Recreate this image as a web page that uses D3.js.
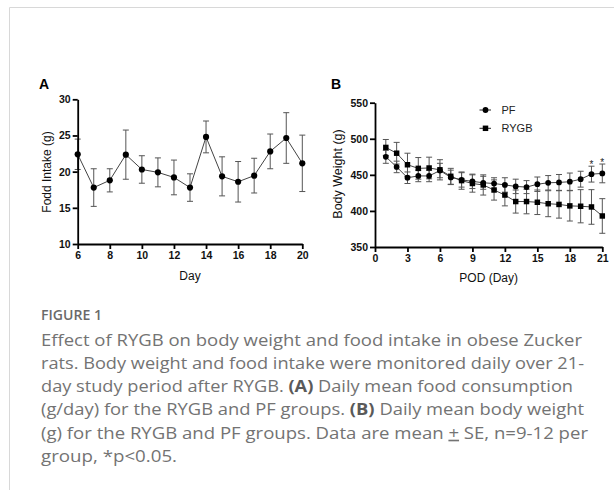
<!DOCTYPE html>
<html>
<head>
<meta charset="utf-8">
<script src="https://cdn.jsdelivr.net/npm/d3@7"></script>
<style>
  body { margin: 0; background: #fff; }
  svg { display: block; }
</style>
</head>
<body>
<div id="chart"></div>
<script>
// panel A: daily food intake
const foodDays = [6, 7, 8, 9, 10, 11, 12, 13, 14, 15, 16, 17, 18, 19, 20]
const foodMean = [22.4, 17.8, 18.8, 22.35, 20.3, 19.9, 19.2, 17.8, 24.8, 19.35, 18.6, 19.45, 22.8, 24.65, 21.15]
const foodSE = [2.1, 2.6, 1.6, 3.4, 1.9, 2.0, 2.4, 1.9, 2.2, 2.7, 2.8, 2.4, 2.4, 3.5, 3.9]
const foodXTicks = [6, 8, 10, 12, 14, 16, 18, 20]
const foodYTicks = [10, 15, 20, 25, 30]

// panel B: body weight after surgery
const podDays = [1, 2, 3, 4, 5, 6, 7, 8, 9, 10, 11, 12, 13, 14, 15, 16, 17, 18, 19, 20, 21]
const pfMean = [475, 461, 446, 448.5, 448.5, 456, 446.5, 443, 441, 439, 438, 436, 434, 433, 437, 439, 439.5, 440.5, 444, 451, 452]
const pfSE = [9, 8, 8, 8, 8, 10, 10, 10, 10, 9, 8, 10, 10, 9, 10, 10, 11, 12, 11, 11, 13]
const rygbMean = [488, 480, 464, 459, 459.5, 457, 448, 442, 438, 436, 429, 422, 413, 413, 412, 410, 409, 407, 406.5, 405.5, 393]
const rygbSE = [11, 15, 16, 15, 15, 14, 11, 12, 12, 14, 14, 15, 16, 17, 17, 18, 19, 21, 23, 24, 24]
const podXTicks = [0, 3, 6, 9, 12, 15, 18, 21]
const bwYTicks = [350, 400, 450, 500, 550]
const sigDays = [20, 21]

const legendNames = ['PF', 'RYGB']

const captionHead = 'FIGURE 1'
// each line is a list of [text, style]
const captionLines = [
  [['Effect of RYGB on body weight and food intake in obese Zucker', false]],
  [['rats. Body weight and food intake were monitored daily over 21-', false]],
  [['day study period after RYGB. ', false], ['(A)', true], [' Daily mean food consumption', false]],
  [['(g/day) for the RYGB and PF groups. ', false], ['(B)', true], [' Daily mean body weight', false]],
  [['(g) for the RYGB and PF groups. Data are mean ', false], ['+', 'u'], [' SE, n=9-12 per', false]],
  [['group, *p<0.05.', false]]
]
const captionWidths = [541, 543, 532, 543, 547, 136]

const width = 614, height = 490
const font = 'Liberation Sans, Arial, sans-serif'

const svg = d3.select('#chart').append('svg')
  .attr('width', width)
  .attr('height', height)

// page frame
svg.append('path')
  .attr('d', 'M9.5,490 V7.5 H614')
  .attr('fill', 'none')
  .attr('stroke', '#d8d8d8')
  .attr('stroke-width', 1)

function styleAxis(g) {
  g.select('.domain').attr('stroke', '#000').attr('stroke-width', 1.8)
  g.selectAll('.tick line').attr('stroke', '#000').attr('stroke-width', 1.8)
  g.selectAll('.tick text')
    .attr('fill', '#111')
    .style('font-family', font)
    .style('font-size', '10.5px')
    .style('font-weight', 'bold')
}

function errorBars(g, x, y, days, mean, se, color) {
  const bars = g.append('g').attr('stroke', color).attr('stroke-width', 1).attr('fill', 'none')
  days.forEach((d, i) => {
    const cx = x(d)
    const top = y(mean[i] + se[i]), bot = y(mean[i] - se[i])
    bars.append('line').attr('x1', cx).attr('x2', cx).attr('y1', top).attr('y2', bot)
    bars.append('line').attr('x1', cx - 3).attr('x2', cx + 3).attr('y1', top).attr('y2', top)
    bars.append('line').attr('x1', cx - 3).attr('x2', cx + 3).attr('y1', bot).attr('y2', bot)
  })
}

function seriesLine(g, x, y, days, mean) {
  const line = d3.line().x((d, i) => x(days[i])).y(d => y(d))
  g.append('path')
    .attr('d', line(mean))
    .attr('fill', 'none')
    .attr('stroke', '#444')
    .attr('stroke-width', 1)
}

const circle = d3.symbol().type(d3.symbolCircle)
const square = d3.symbol().type(d3.symbolSquare)

// ---------- panel A ----------
const xA = d3.scaleLinear().domain([6, 20]).range([77.7, 302.3])
const yA = d3.scaleLinear().domain([10, 30]).range([244, 99.3])
const gA = svg.append('g')

errorBars(gA, xA, yA, foodDays, foodMean, foodSE, '#555')
seriesLine(gA, xA, yA, foodDays, foodMean)
gA.selectAll('.dotA').data(foodMean).enter().append('path')
  .attr('d', circle.size(30))
  .attr('transform', (d, i) => 'translate(' + xA(foodDays[i]) + ',' + yA(d) + ')')
  .attr('fill', '#000')

gA.append('g')
  .attr('transform', 'translate(' + xA(6) + ',0)')
  .call(d3.axisLeft(yA).tickValues(foodYTicks).tickSize(5).tickSizeOuter(0).tickPadding(2))
  .call(styleAxis)
gA.append('g')
  .attr('transform', 'translate(0,' + yA(10) + ')')
  .call(d3.axisBottom(xA).tickValues(foodXTicks).tickSize(5).tickSizeOuter(0).tickPadding(3))
  .call(styleAxis)

gA.append('text')
  .attr('transform', 'translate(51,172) rotate(-90)')
  .attr('text-anchor', 'middle')
  .style('font-family', font).style('font-size', '12px')
  .attr('fill', '#111')
  .text('Fodd Intake (g)')
gA.append('text')
  .attr('x', (xA(6) + xA(20)) / 2).attr('y', 280)
  .attr('text-anchor', 'middle')
  .style('font-family', font).style('font-size', '12px')
  .attr('fill', '#111')
  .text('Day')
gA.append('text')
  .attr('x', 39).attr('y', 88.5)
  .style('font-family', font).style('font-size', '14px').style('font-weight', 'bold')
  .text('A')

// ---------- panel B ----------
const xB = d3.scaleLinear().domain([0, 21]).range([375, 602.3])
const yB = d3.scaleLinear().domain([350, 550]).range([247, 102.7])
const gB = svg.append('g')

errorBars(gB, xB, yB, podDays, rygbMean, rygbSE, '#555')
errorBars(gB, xB, yB, podDays, pfMean, pfSE, '#555')
seriesLine(gB, xB, yB, podDays, rygbMean)
seriesLine(gB, xB, yB, podDays, pfMean)
gB.selectAll('.sqB').data(rygbMean).enter().append('path')
  .attr('d', square.size(30))
  .attr('transform', (d, i) => 'translate(' + xB(podDays[i]) + ',' + yB(d) + ')')
  .attr('fill', '#000')
gB.selectAll('.dotB').data(pfMean).enter().append('path')
  .attr('d', circle.size(26))
  .attr('transform', (d, i) => 'translate(' + xB(podDays[i]) + ',' + yB(d) + ')')
  .attr('fill', '#000')

// significance marks above PF error bars
sigDays.forEach(day => {
  const i = podDays.indexOf(day)
  gB.append('text')
    .attr('x', xB(day)).attr('y', yB(pfMean[i] + pfSE[i]) + 2)
    .attr('text-anchor', 'middle')
    .style('font-family', font).style('font-size', '10px')
    .attr('fill', '#222')
    .text('*')
})

gB.append('g')
  .attr('transform', 'translate(' + xB(0) + ',0)')
  .call(d3.axisLeft(yB).tickValues(bwYTicks).tickSize(5).tickSizeOuter(0).tickPadding(2))
  .call(styleAxis)
gB.append('g')
  .attr('transform', 'translate(0,' + yB(350) + ')')
  .call(d3.axisBottom(xB).tickValues(podXTicks).tickSize(5).tickSizeOuter(0).tickPadding(3))
  .call(styleAxis)

gB.append('text')
  .attr('transform', 'translate(342,174) rotate(-90)')
  .attr('text-anchor', 'middle')
  .style('font-family', font).style('font-size', '12.5px')
  .attr('fill', '#111')
  .text('Body Weight (g)')
gB.append('text')
  .attr('x', (xB(0) + xB(21)) / 2).attr('y', 282)
  .attr('text-anchor', 'middle')
  .style('font-family', font).style('font-size', '12px')
  .attr('fill', '#111')
  .text('POD (Day)')
gB.append('text')
  .attr('x', 331).attr('y', 88.5)
  .style('font-family', font).style('font-size', '14px').style('font-weight', 'bold')
  .text('B')

// legend
const legend = gB.append('g')
legendNames.forEach((name, i) => {
  const ly = 110 + i * 18.3
  legend.append('line')
    .attr('x1', 479.5).attr('x2', 491).attr('y1', ly).attr('y2', ly)
    .attr('stroke', '#222').attr('stroke-width', 1)
  legend.append('path')
    .attr('d', (i === 0 ? circle : square).size(i === 0 ? 26 : 30)())
    .attr('transform', 'translate(485.5,' + ly + ')')
    .attr('fill', '#000')
  legend.append('text')
    .attr('x', 501.5).attr('y', ly + 4)
    .style('font-family', font).style('font-size', '11px')
    .attr('fill', '#222')
    .text(name)
})

// ---------- caption ----------
const cap = svg.append('g').attr('fill', '#737373')
cap.append('text')
  .attr('x', 41).attr('y', 320)
  .attr('textLength', 61).attr('lengthAdjust', 'spacingAndGlyphs')
  .style('font-family', 'Open Sans, sans-serif').style('font-size', '13.5px').style('font-weight', 600)
  .attr('fill', '#6a6a6a')
  .text(captionHead)

captionLines.forEach((parts, i) => {
  const t = cap.append('text')
    .attr('x', 41).attr('y', 345.5 + i * 23.3)
    .attr('textLength', captionWidths[i]).attr('lengthAdjust', 'spacingAndGlyphs')
    .style('font-family', 'Open Sans, sans-serif').style('font-size', '16.5px')
    .attr('xml:space', 'preserve')
  parts.forEach(p => {
    const s = t.append('tspan').text(p[0])
    if (p[1] === true) s.style('font-weight', 'bold').attr('fill', '#5a5a5a')
    if (p[1] === 'u') s.style('text-decoration', 'underline')
  })
})
</script>
</body>
</html>
